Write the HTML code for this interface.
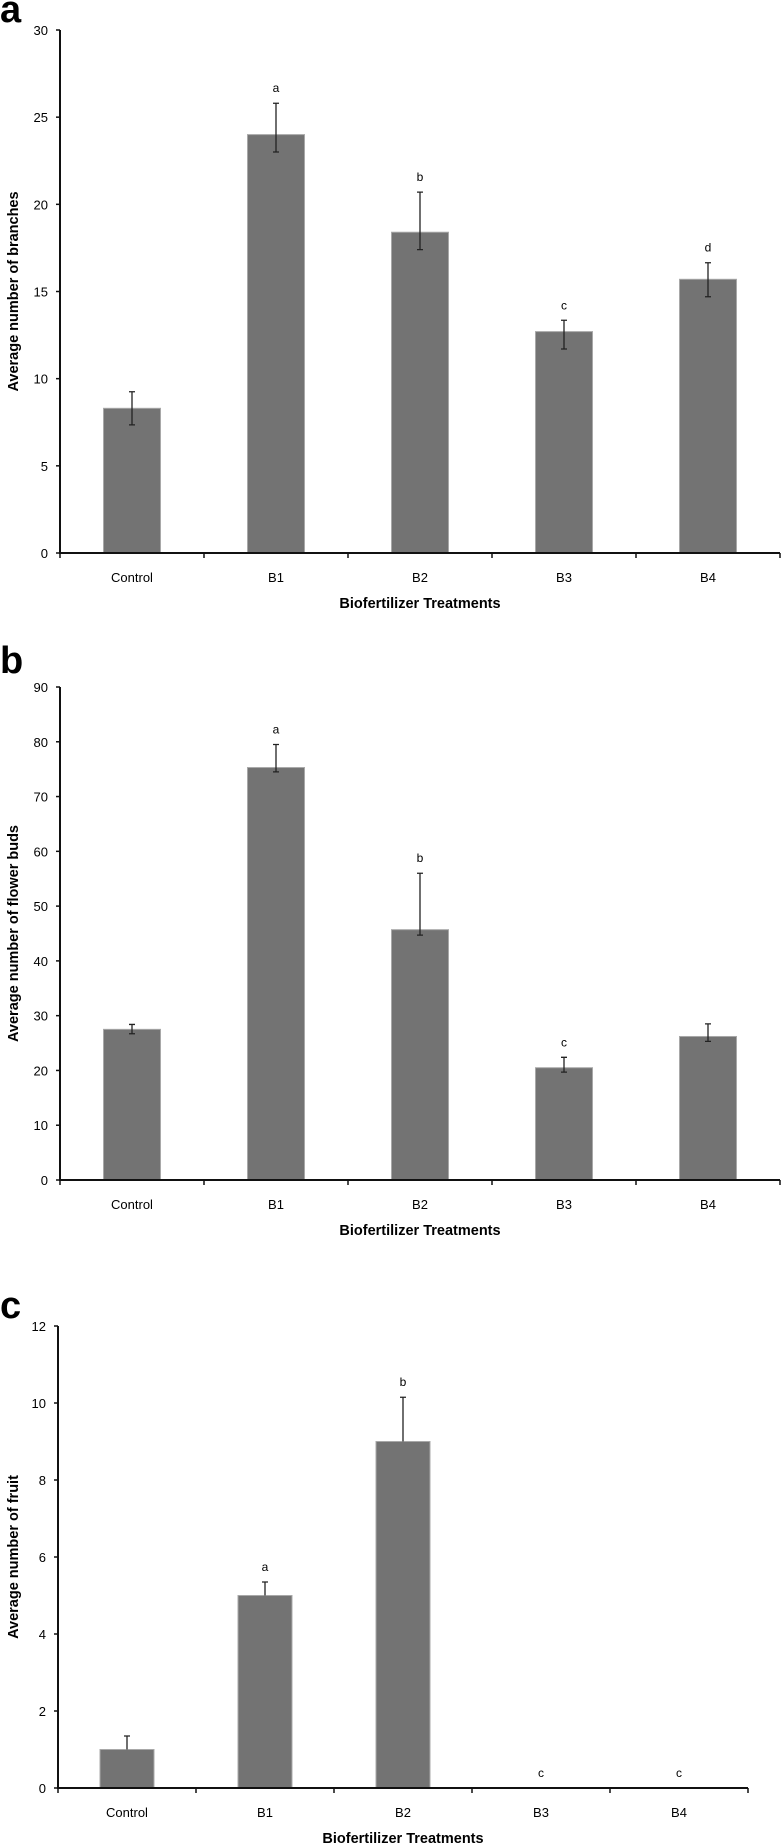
<!DOCTYPE html>
<html><head><meta charset="utf-8"><style>
html,body{margin:0;padding:0;background:#fff;}
svg{display:block;font-family:"Liberation Sans",Arial,sans-serif;}
</style></head><body>
<svg id="chart" width="784" height="1843" viewBox="0 0 784 1843" xmlns="http://www.w3.org/2000/svg"></svg>
<script>
const categories = ["Control","B1","B2","B3","B4"];
const branchMeans = [8.3, 24.0, 18.4, 12.7, 15.7];
const branchErrors = [0.95, 1.8, 2.3, 0.65, 0.95];
const branchLowErrors = [0.95, 1.0, 1.0, 1.0, 1.0];
const branchLetters = ["", "a", "b", "c", "d"];
const branchTicks = [0,5,10,15,20,25,30];
const budMeans = [27.5, 75.3, 45.7, 20.5, 26.2];
const budErrors = [0.9, 4.2, 10.3, 1.9, 2.3];
const budLowErrors = [0.8, 0.8, 1.0, 0.8, 0.9];
const budLetters = ["", "a", "b", "c", ""];
const budTicks = [0,10,20,30,40,50,60,70,80,90];
const fruitMeans = [1, 5, 9, 0, 0];
const fruitErrors = [0.35, 0.35, 1.15, 0, 0];
const fruitLowErrors = [0, 0, 0, 0, 0];
const fruitLetters = ["", "a", "b", "c", "c"];
const fruitTicks = [0,2,4,6,8,10,12];

const svg = document.getElementById('chart');
const NS = 'http://www.w3.org/2000/svg';
function mk(tag, attrs, parent){
  const e = document.createElementNS(NS, tag);
  for (const k in attrs) e.setAttribute(k, attrs[k]);
  (parent||svg).appendChild(e);
  return e;
}
function panel(p){
  const g = mk('g', {});
  
  
  const ymax = p.ticks[p.ticks.length-1];
  const y = v => p.y0 - (v / ymax) * (p.y0 - p.yTop);
  const cw = (p.x1 - p.x0) / categories.length;
  const xc = i => p.x0 + cw * (i + 0.5);
  const letter = mk('text', {x: p.lx, y: p.ly, 'font-size': 38, 'font-weight': 'bold'}, g);
  letter.textContent = p.id;
  
  
  p.means.forEach((m, i) => {
    if (m > 0) {
      const r = mk('rect', {x: xc(i) - p.bw/2, y: y(m), width: p.bw, height: p.y0 - y(m), fill: '#737373', stroke: '#a8a8a8', 'stroke-width': 1}, g);
      
      
    }
    const e = p.errs[i];
    const le = p.lows[i];
    if (e > 0) {
      let d = `M${xc(i)},${y(m+e)}V${y(m-le)}M${xc(i)-3},${y(m+e)}H${xc(i)+3}`;
      if (le > 0) d += `M${xc(i)-3},${y(m-le)}H${xc(i)+3}`;
      const eb = mk('path', {d: d, stroke: '#222', 'stroke-width': 1.3, fill: 'none'}, g);
      
      
    }
    if (p.letters[i]) {
      const t = mk('text', {x: xc(i), y: y(m + e) - 11, 'font-size': 12, 'text-anchor': 'middle'}, g);
      t.textContent = p.letters[i];
      
      
    }
    const xl = mk('text', {x: xc(i), y: p.y0 + 29, 'font-size': 13, 'text-anchor': 'middle'}, g);
    xl.textContent = categories[i];
    
    
  });
  const ax = mk('path', {d: `M${p.x0},${p.yTop}V${p.y0}H${p.x1}`, stroke: '#111', 'stroke-width': 2, fill: 'none'}, g);
  
  
  p.ticks.forEach(v => {
    mk('line', {x1: p.x0 - 4, x2: p.x0, y1: y(v), y2: y(v), stroke: '#111', 'stroke-width': 1.5}, g);
    const t = mk('text', {x: p.x0 - 12, y: y(v) + 5, 'font-size': 13, 'text-anchor': 'end'}, g);
    t.textContent = v;
    
    
  });
  for (let i = 0; i <= categories.length; i++) {
    mk('line', {x1: p.x0 + cw*i, x2: p.x0 + cw*i, y1: p.y0, y2: p.y0 + 5, stroke: '#111', 'stroke-width': 1.5}, g);
  }
  const xt = mk('text', {x: (p.x0 + p.x1)/2, y: p.y0 + 55, 'font-size': 14.5, 'font-weight': 'bold', 'text-anchor': 'middle'}, g);
  xt.textContent = 'Biofertilizer Treatments';
  
  
  const yc = (p.yTop + p.y0)/2;
  const yt = mk('text', {x: 0, y: 0, 'font-size': 14.5, 'font-weight': 'bold', 'text-anchor': 'middle', transform: `translate(${p.ytx},${yc}) rotate(-90)`}, g);
  yt.textContent = p.ytitle;
  
  
}
panel({id:'a', means: branchMeans, errs: branchErrors, lows: branchLowErrors, letters: branchLetters, ticks: branchTicks, x0: 60, x1: 780, yTop: 30, y0: 553, bw: 57, lx: 0, ly: 22, ytx: 18, ytitle: 'Average number of branches'});
panel({id:'b', means: budMeans, errs: budErrors, lows: budLowErrors, letters: budLetters, ticks: budTicks, x0: 60, x1: 780, yTop: 687, y0: 1180, bw: 57, lx: 0, ly: 673, ytx: 18, ytitle: 'Average number of flower buds'});
panel({id:'c', means: fruitMeans, errs: fruitErrors, lows: fruitLowErrors, letters: fruitLetters, ticks: fruitTicks, x0: 58, x1: 748, yTop: 1326, y0: 1788, bw: 54, lx: 0, ly: 1318, ytx: 18, ytitle: 'Average number of fruit'});
</script>
</body></html>
